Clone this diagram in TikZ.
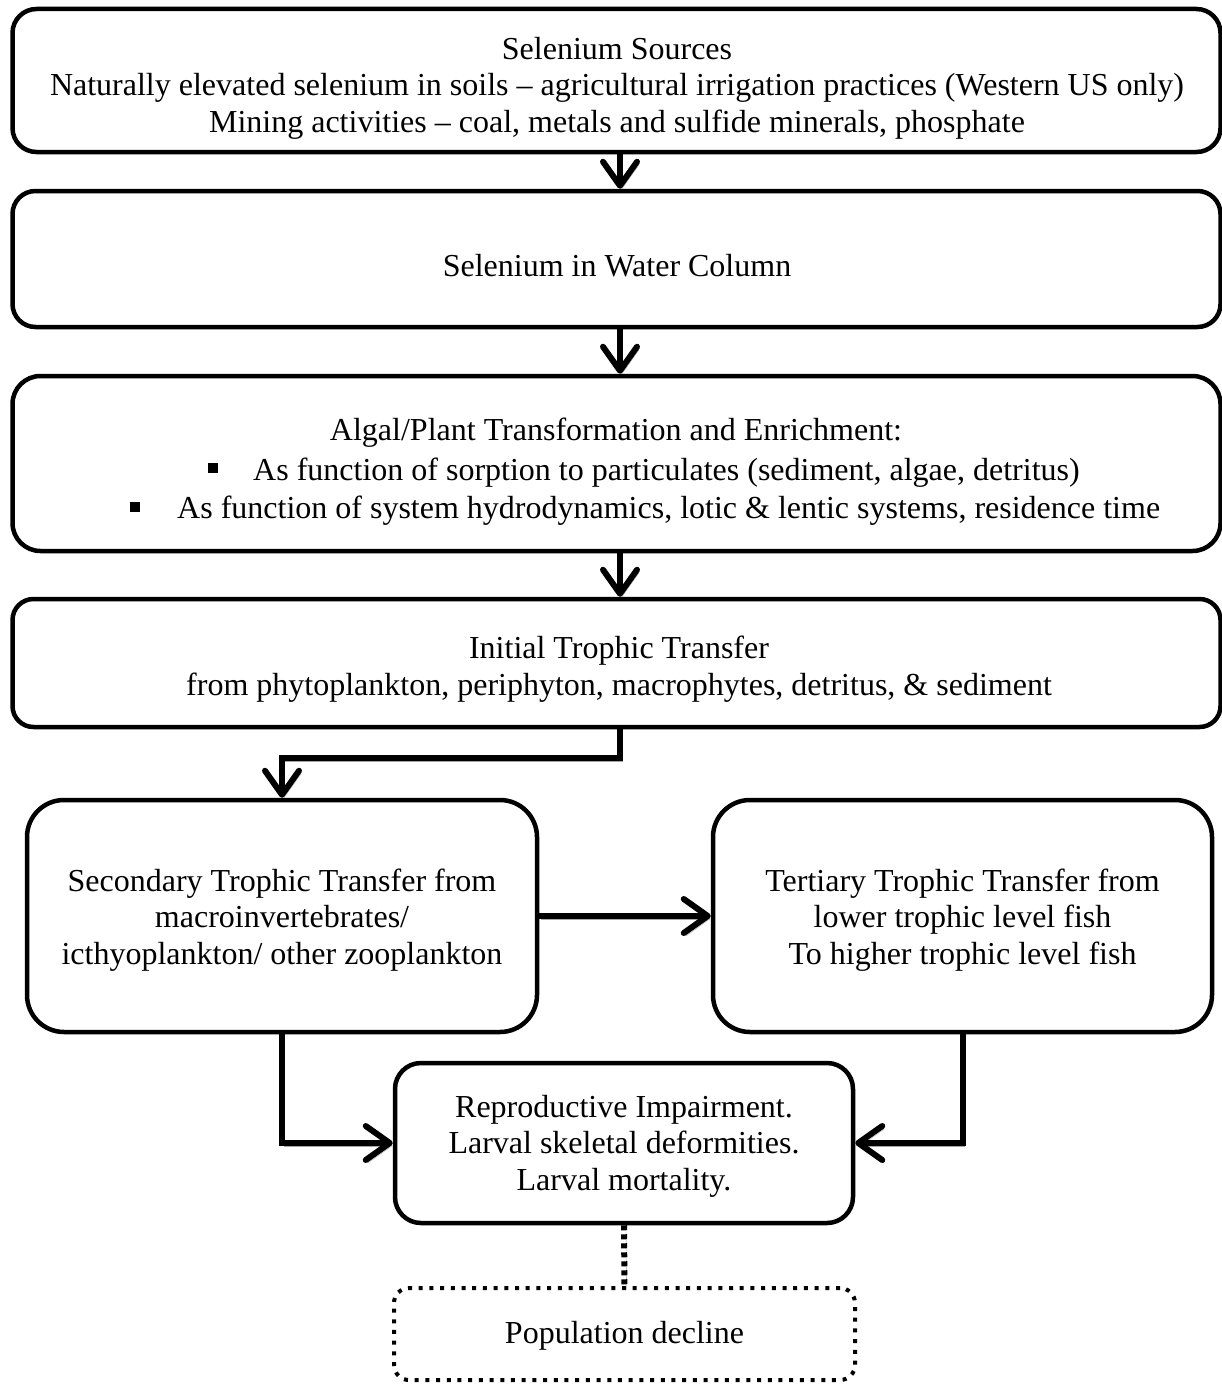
\documentclass[tikz,border=0pt]{standalone}
\usepackage{fontspec}
\setmainfont{Liberation Serif}
\usetikzlibrary{arrows.meta}
\begin{document}
\begin{tikzpicture}[x=1pt,y=-1pt,
  box/.style={draw, line width=4.5pt, inner sep=0pt},
  txt/.style={inner sep=0pt, align=center, font=\fontsize{32}{36.5}\selectfont},
  sq/.style={fill=black, inner sep=0pt, minimum size=10pt},
  conn/.style={line width=6pt, -{Straight Barb[length=24pt,width=34pt,round]},
    preaction={draw=black!35, transform canvas={shift={(2pt,-3pt)}}}},
]
\useasboundingbox (0,0) rectangle (1222,1386);
% boxes
\node[box, rounded corners=24pt, minimum width=1208pt, minimum height=143pt] (src) at (616.5,80.5) {};
\node[txt] (srct) at (617,88)
  {Selenium Sources\\Naturally elevated selenium in soils – agricultural irrigation practices (Western US only)\\Mining activities – coal, metals and sulfide minerals, phosphate};
\node[box, rounded corners=23pt, minimum width=1208pt, minimum height=136pt] (wat) at (616.5,259) {};
\node[txt] (watt) at (617,266) {Selenium in Water Column};
\node[box, rounded corners=28pt, minimum width=1208pt, minimum height=175pt] (alg) at (616.5,463.5) {};
\node[txt, anchor=base] (algt) at (616,440) {Algal/Plant Transformation and Enrichment:};
\node[sq] (b1) at (213,468) {};
\node[txt, anchor=base west] (l1) at (253,480) {As function of sorption to particulates (sediment, algae, detritus)};
\node[sq] (b2) at (135,507) {};
\node[txt, anchor=base west] (l2) at (177,518) {As function of system hydrodynamics, lotic \& lentic systems, residence time};
\node[box, rounded corners=21pt, minimum width=1208pt, minimum height=128pt] (init) at (616.5,663) {};
\node[txt] (initt) at (619,669)
  {Initial Trophic Transfer\\from phytoplankton, periphyton, macrophytes, detritus, \& sediment};
\node[box, rounded corners=37pt, minimum width=510pt, minimum height=232pt] (sec) at (282,916) {};
\node[txt] (sect) at (282,920)
  {Secondary Trophic Transfer from\\macroinvertebrates/\\icthyoplankton/ other zooplankton};
\node[box, rounded corners=37pt, minimum width=499pt, minimum height=232pt] (ter) at (962.5,916) {};
\node[txt] (tert) at (962.5,920)
  {Tertiary Trophic Transfer from\\lower trophic level fish\\To higher trophic level fish};
\node[box, rounded corners=26pt, minimum width=458pt, minimum height=160pt] (rep) at (624,1143) {};
\node[txt] (rept) at (624,1146)
  {Reproductive Impairment.\\Larval skeletal deformities.\\Larval mortality.};
\node[box, rounded corners=15pt, line width=4pt, dash pattern=on 4pt off 6.7pt, minimum width=461pt, minimum height=92pt] (pop) at (624.5,1334) {};
\node[txt] (popt) at (624.5,1336) {Population decline};
% connectors
\draw[conn] ([xshift=3.5pt]src.south) -- ([xshift=3.5pt]wat.north);
\draw[conn] ([xshift=3.5pt]wat.south) -- ([xshift=3.5pt]alg.north);
\draw[conn] ([xshift=3.5pt]alg.south) -- ([xshift=3.5pt]init.north);
\draw[conn] ([xshift=3.5pt]init.south) |- (sec.north |- 0,758) -- (sec.north);
\draw[conn] (sec.east) -- (ter.west);
\draw[conn] (sec.south) |- (rep.west);
\draw[conn] (ter.south) |- (rep.east);
\draw[line width=6pt, dash pattern=on 5pt off 4pt,
  preaction={draw=black!35, transform canvas={shift={(2pt,-3pt)}}}] (rep.south) -- (pop.north);
\end{tikzpicture}
\end{document}
